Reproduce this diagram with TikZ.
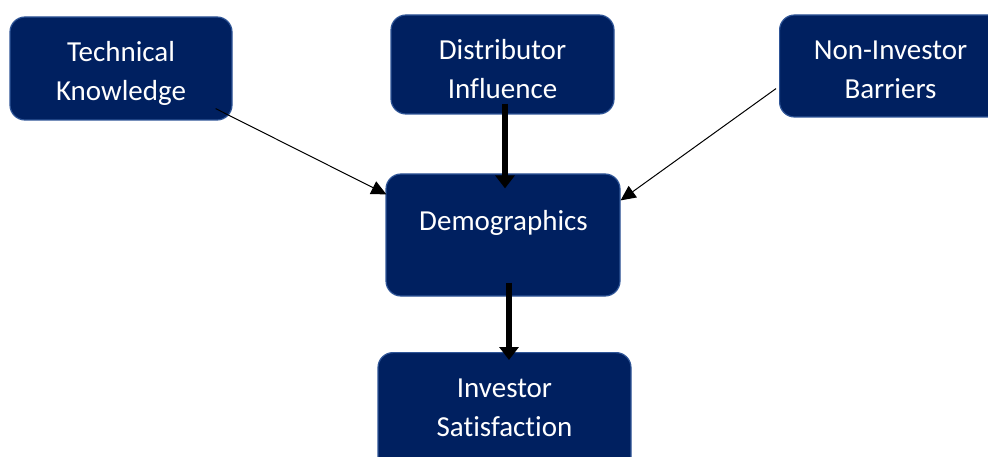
\documentclass[tikz,border=0pt]{standalone}
\usepackage{fontspec}
\setmainfont{Carlito}[Ligatures={NoCommon}]
\usetikzlibrary{arrows.meta}
\definecolor{navy}{HTML}{002060}
\definecolor{rim}{HTML}{2F5597}
\tikzset{
  box/.style={draw=rim, line width=1.2pt, fill=navy, rounded corners=15pt, inner sep=0pt},
  caption/.style={text=white, align=center, inner sep=0pt,
    font=\fontsize{29}{39}\selectfont},
  thin/.style={draw=black, line width=1pt, -{Triangle[length=15pt,width=14pt]}},
  thick/.style={draw=black, line width=6pt, -{Triangle[length=13pt,width=19pt]}},
}
\begin{document}
\begin{tikzpicture}[x=1pt,y=-1pt]
\useasboundingbox (0,0) rectangle (988,457);
% boxes
\node[box, minimum width=222pt, minimum height=103pt] (tk) at (121,68.5) {};
\node[box, minimum width=223pt, minimum height=99pt] (di) at (502.5,64.5) {};
\node[box, minimum width=230pt, minimum height=102pt, anchor=west] (nib) at (779,66) {};
\node[box, minimum width=234pt, minimum height=122pt] (demo) at (503,235) {};
\node[box, minimum width=253pt, minimum height=120pt, anchor=north] (is) at (504.5,352) {};
% captions
\node[caption] (tkl) at (121,73.7) {\strut Technical\\\strut Knowledge};
\node[caption] (dil) at (502.5,71.7) {\strut Distributor\\\strut Influence};
\node[caption] (nibl) at (890.5,71.7) {\strut Non-Investor\\\strut Barriers};
\node[caption] (demol) at (503.5,223.2) {\strut Demographics};
\node[caption] (isl) at (504.5,408.7) {\strut Investor\\\strut Satisfaction};
% connectors
\draw[thin] ([shift={(-17,-12)}]tk.south east) -- ([shift={(1,21)}]demo.north west);
\draw[thin] ([shift={(-3,-29)}]nib.south west) -- ([shift={(0,27)}]demo.north east);
\draw[thick] ([shift={(2.5,-11)}]di.south) -- ([shift={(2,15)}]demo.north);
\draw[thick] ([shift={(6,-14)}]demo.south) -- ([shift={(4.5,8)}]is.north);
\end{tikzpicture}
\end{document}
